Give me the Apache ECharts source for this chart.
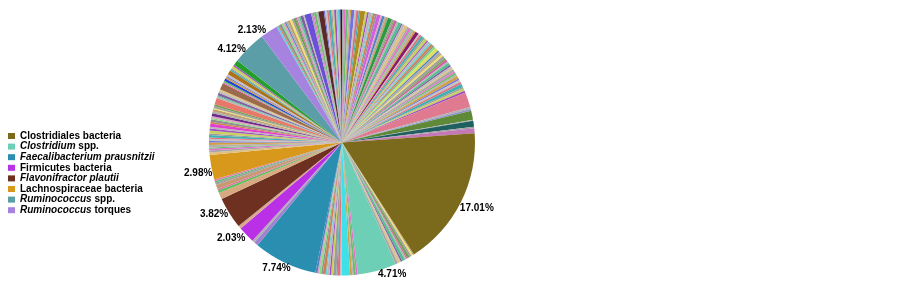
<!DOCTYPE html>
<html>
<head>
<meta charset="utf-8">
<script src="https://cdn.jsdelivr.net/npm/echarts@6/dist/echarts.min.js"></script>
<style>
html,body{margin:0;padding:0;background:#fff;}
#c{width:903px;height:285px;}
</style>
</head>
<body>
<div id="c"></div>
<script>
// Named taxa (legend entries) and their shares (%)
const categories = ['Clostridiales bacteria','Clostridium spp.','Faecalibacterium prausnitzii','Firmicutes bacteria','Flavonifractor plautii','Lachnospiraceae bacteria','Ruminococcus spp.','Ruminococcus torques'];
const shares = [17.01, 4.71, 7.74, 2.03, 3.82, 2.98, 4.12, 2.13];

// Unnamed minor taxa (%), in clockwise order between the named slices
const otherA1 = [0.25,0.18,0.32,0.2,0.15,0.4,0.22,0.3,0.18,0.6,0.25,0.2,0.35,0.15,0.28,0.22,0.45,0.2,0.3,0.18,
  0.25,0.5,0.2,0.15,0.3,0.22,0.35,0.18,0.28,0.4,0.2,0.25,0.15,0.3,0.22,0.45,0.18,0.25,0.3,0.2,
  0.35,0.15,0.28,0.22,0.3,0.18,0.25,0.4,0.2,0.3,0.15,0.25,0.35,0.2,0.28,0.18,0.3,0.22,0.25,0.2,
  0.3,0.18,0.25,0.2,0.35,0.2,0.3,0.25,0.4,0.2,0.3,0.25];
const otherA2 = [1.8,0.25,0.2,1.1,0.15,0.7,0.2,0.6];
const otherB = [0.15,0.2,0.25,0.3,0.15,0.2,0.35,0.2,0.15,0.25,0.3];
const otherC = [0.2,0.3,0.15,0.25,1.0,0.2,0.3,0.15,0.4,0.25,0.2,0.3,0.15,0.35,0.2,0.25,0.2,0.25];
const otherD = [0.5,0.3];
const otherE = [0.4];
const otherF = [0.8,0.3,0.2,0.5,0.3,0.2,0.2];
const otherG = [0.3,0.25,0.2,0.15,0.3,0.3,0.2,0.25,0.15,0.3,0.2,0.35,0.25,0.2,0.4,0.2,0.3,0.15,0.25,0.35,0.2,0.3,0.15,0.25,0.2,0.8,0.2,0.15,0.3,0.25,0.2,0.8,0.15,0.2,0.3,0.2,0.15,0.25,0.5,0.2,0.15,0.3,0.2,0.64];
const otherH = [0.2,0.15,0.3,0.2,0.25,0.15,0.2,0.3,0.25,0.2,0.3,0.15,0.25,0.2,0.35,0.17,0.8,0.2,0.15,0.3,0.25,0.65,0.15,0.25,0.2,0.3,0.15,0.2,0.25,0.2,0.15,0.15,0.2];

// ---- styles ----
const namedColors = ['#7c6a1c','#6dcfb5','#2a8eb0','#b930e6','#6e3020','#d8981c','#5b9ea7','#a783e0'];
const labelNudge = [[-2,6],[0,3],[7,6],[0,3],[0,1],[2,6],[-2,2],[-2,-1]];
const palette = ['#a6a6a6','#e66ad0','#6ac06a','#b2b2b2','#d0a040','#7272e0','#c2c2c2','#e07080','#40b0b0','#9c9c9c',
  '#c8d060','#a050c0','#b8b8b8','#60d0e0','#d08050','#909090','#80e080','#e0a0c0','#5080c0','#aaaaaa',
  '#c0a070','#f0e070','#a0a0a0','#70a050','#d060a0','#b4b4b4','#50c090','#8060a0','#bcbcbc','#e0c080'];
const accents = {
  A1: {9:'#b08a20',16:'#d060e0',21:'#2a9a40',35:'#8a1a6a',47:'#e0e060'},
  A2: {0:'#e07a90',1:'#b0b0b0',2:'#9090d0',3:'#5e8a38',4:'#b0b0b0',5:'#1e6060',6:'#a0a0a0',7:'#c478b8'},
  C: {4:'#40e0e8'},
  D: {0:'#a080d0',1:'#b0b0b0'},
  E: {0:'#d8a890'},
  F: {0:'#d8a880',1:'#60c060',2:'#e070a0',3:'#c89870',4:'#a0a0a0',5:'#50c070',6:'#e080b0'},
  G: {14:'#e040d0',19:'#6a2a8a',25:'#e8786a',31:'#9a6a4a',34:'#2040e0',38:'#b0701a',43:'#22a02a'},
  H: {16:'#6a50d8',21:'#5a2a28',32:'#0a1a60'}
};
const legendRich = {
  'Clostridium spp.': '{i|Clostridium} spp.',
  'Faecalibacterium prausnitzii': '{i|Faecalibacterium prausnitzii}',
  'Flavonifractor plautii': '{i|Flavonifractor plautii}',
  'Ruminococcus spp.': '{i|Ruminococcus} spp.',
  'Ruminococcus torques': '{i|Ruminococcus} torques'
};

// ---- build series data ----
const order = [['A1',otherA1],['A2',otherA2],0,['B',otherB],1,['C',otherC],2,['D',otherD],3,['E',otherE],4,['F',otherF],5,['G',otherG],6,7,['H',otherH]];
const data = [];
let k = 0;
order.forEach(function (o) {
  if (typeof o === 'number') {
    data.push({name: categories[o], value: shares[o], itemStyle: {color: namedColors[o]}, label: {show: true, offset: labelNudge[o]}});
  } else {
    const key = o[0], arr = o[1], acc = accents[key] || {};
    arr.forEach(function (v, i) {
      const col = acc[i] || palette[k % palette.length];
      data.push({name: 'other_' + key + '_' + i, value: v, itemStyle: {color: col}, label: {show: false}});
      k++;
    });
  }
});

const chart = echarts.init(document.getElementById('c'), null, {renderer: 'canvas'});
chart.setOption({
  animation: false,
  legend: {
    data: categories,
    orient: 'vertical',
    left: 3,
    top: 126,
    itemWidth: 7,
    itemHeight: 6,
    itemGap: 0.6,
    icon: 'rect',
    selectedMode: false,
    formatter: function (n) { return legendRich[n] || n; },
    textStyle: {
      fontFamily: 'Liberation Sans, Arial, sans-serif',
      fontSize: 10,
      fontWeight: 'bold',
      color: '#000',
      lineHeight: 10,
      rich: {
        i: {fontFamily: 'Liberation Sans, Arial, sans-serif', fontSize: 10, fontWeight: 'bold', fontStyle: 'italic', color: '#000', lineHeight: 10}
      }
    }
  },
  series: [{
    type: 'pie',
    center: [342, 142.5],
    radius: 133,
    startAngle: 90,
    clockwise: true,
    avoidLabelOverlap: false,
    silent: true,
    itemStyle: {borderWidth: 0},
    label: {
      show: false,
      position: 'outside',
      formatter: function (p) { return p.value.toFixed(2) + '%'; },
      fontFamily: 'Liberation Sans, Arial, sans-serif',
      fontSize: 10,
      fontWeight: 'bold',
      color: '#000',
      distanceToLabelLine: 1
    },
    labelLine: {show: false, length: 0, length2: 0},
    data: data
  }]
});
</script>
</body>
</html>
